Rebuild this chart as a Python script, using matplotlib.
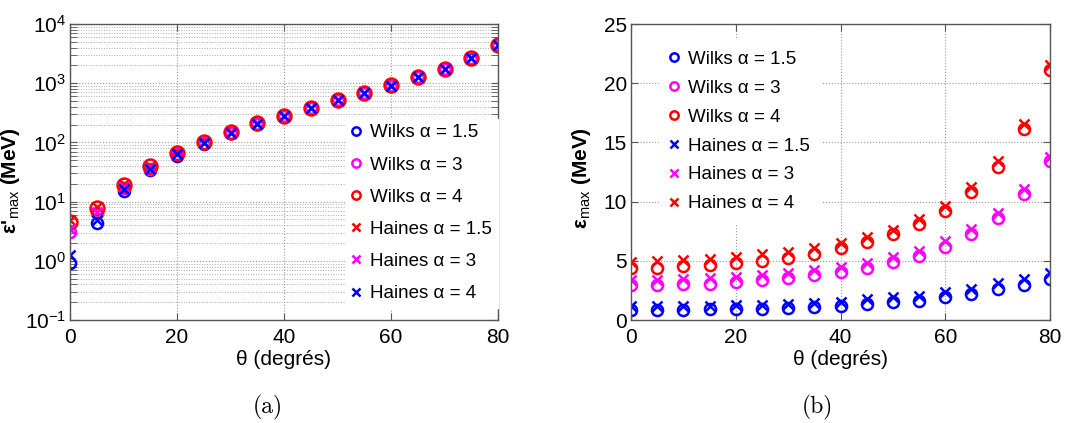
import matplotlib
matplotlib.use("Agg")
import matplotlib.pyplot as plt
from matplotlib.ticker import LogLocator, FixedLocator, NullFormatter

plt.rcParams['font.family'] = ['Liberation Sans', 'DejaVu Sans']
plt.rcParams['mathtext.fontset'] = 'custom'
plt.rcParams['mathtext.rm'] = 'Liberation Sans'
plt.rcParams['mathtext.it'] = 'Liberation Sans:italic'
plt.rcParams['mathtext.bf'] = 'Liberation Sans:bold'

theta = [0, 5, 10, 15, 20, 25, 30, 35, 40, 45, 50, 55, 60, 65, 70, 75, 80]

# Panel (a): epsilon'_max (MeV), log scale
a_wilks_15 = [0.93, 4.35, 15, 34, 60, 95, 142, 205, 274, 380, 512, 683, 905, 1255, 1745, 2610, 4380]
a_wilks_3 = [3.1, 6.4, 17, 36, 63, 97, 144, 207, 276, 382, 515, 686, 910, 1260, 1750, 2620, 4400]
a_wilks_4 = [4.6, 7.8, 19.4, 39.5, 67, 100, 147, 210, 280, 386, 519, 690, 915, 1265, 1760, 2630, 4420]
a_haines_15 = [4.9, 8.1, 19.8, 40, 68, 101, 148, 211, 281, 387, 520, 691, 916, 1266, 1762, 2632, 4425]
a_haines_3 = [3.5, 6.8, 17.5, 36.5, 64, 98, 145, 208, 277, 383, 516, 687, 911, 1261, 1751, 2621, 4402]
a_haines_4 = [1.25, 4.9, 16.6, 35.6, 63, 97, 144, 207, 276, 382, 514, 685, 908, 1258, 1748, 2615, 4390]

# Panel (b): epsilon_max (MeV)
b_wilks_15 = [0.85, 0.85, 0.88, 0.90, 0.93, 0.96, 1.02, 1.07, 1.18, 1.35, 1.49, 1.63, 1.92, 2.2, 2.62, 2.96, 3.44]
b_wilks_3 = [2.97, 2.97, 3.02, 3.08, 3.22, 3.36, 3.53, 3.76, 4.08, 4.37, 4.87, 5.41, 6.2, 7.24, 8.62, 10.6, 13.4]
b_wilks_4 = [4.43, 4.43, 4.52, 4.63, 4.8, 5.0, 5.22, 5.54, 6.06, 6.56, 7.24, 8.11, 9.21, 10.79, 12.96, 16.1, 21.1]
b_haines_15 = [1.19, 1.19, 1.19, 1.21, 1.24, 1.30, 1.36, 1.41, 1.55, 1.75, 1.92, 2.06, 2.34, 2.65, 3.1, 3.44, 3.94]
b_haines_3 = [3.39, 3.39, 3.47, 3.56, 3.67, 3.81, 4.0, 4.24, 4.5, 4.85, 5.3, 5.86, 6.65, 7.7, 9.07, 11.04, 13.8]
b_haines_4 = [4.94, 4.97, 5.03, 5.17, 5.34, 5.54, 5.76, 6.1, 6.48, 7.0, 7.6, 8.5, 9.63, 11.2, 13.4, 16.56, 21.5]

labels_wilks = ['Wilks α = 1.5', 'Wilks α = 3', 'Wilks α = 4']
labels_haines = ['Haines α = 1.5', 'Haines α = 3', 'Haines α = 4']

BLUE, MAG, RED = '#0000ff', '#ff00ff', '#ff0000'
FS = 15
LFS = 13.5

fig = plt.figure(figsize=(10.74, 4.23), dpi=100)
axa = fig.add_axes([70/1074, 1-320/423, 428/1074, 296/423])
axb = fig.add_axes([631/1074, 1-320/423, 419/1074, 296/423])

def style(ax):
    for s in ax.spines.values():
        s.set_color('#555555')
        s.set_linewidth(1.0)
    ax.tick_params(which='both', direction='in', top=True, right=True,
                   labelsize=FS, color='#555555', length=5)
    ax.tick_params(axis='x', pad=6)
    ax.tick_params(axis='y', pad=3)
    ax.set_axisbelow(True)

ckw = dict(linestyle='none', marker='o', markerfacecolor='none', markersize=8, markeredgewidth=1.8)
xkw = dict(linestyle='none', marker='x', markersize=7, markeredgewidth=1.8)

# Panel (a)
axa.plot(theta, a_wilks_15, color=BLUE, label=labels_wilks[0], **ckw)
axa.plot(theta, a_wilks_3, color=MAG, label=labels_wilks[1], **ckw)
axa.plot(theta, a_wilks_4, color=RED, label=labels_wilks[2], linestyle='none', marker='o',
         markerfacecolor='none', markersize=10, markeredgewidth=1.8)
axa.plot(theta, a_haines_15, color=RED, label=labels_haines[0], **xkw)
axa.plot(theta, a_haines_3, color=MAG, label=labels_haines[1], **xkw)
axa.plot(theta, a_haines_4, color=BLUE, label=labels_haines[2], **xkw)
axa.set_yscale('log')
axa.set_xlim(0, 80)
axa.set_ylim(0.1, 1e4)
axa.xaxis.set_major_locator(FixedLocator([0, 20, 40, 60, 80]))
axa.yaxis.set_major_locator(LogLocator(base=10, numticks=10))
axa.yaxis.set_minor_locator(LogLocator(base=10, subs=range(2, 10), numticks=100))
axa.yaxis.set_minor_formatter(NullFormatter())
axa.grid(True, which='major', linestyle=':', color='#999999', linewidth=0.8)
axa.grid(True, which='minor', axis='y', linestyle=':', color='#aaaaaa', linewidth=0.7)
style(axa)
axa.set_xlabel('θ (degrés)', fontsize=FS, labelpad=2)
axa.set_ylabel("ε'$_{\\rm max}$ (MeV)", fontsize=FS, fontweight='bold')
axa.yaxis.set_label_coords(-0.112, 0.47)
lega = axa.legend(loc='upper left', bbox_to_anchor=(0.645, 0.68), fontsize=LFS,
                  frameon=True, fancybox=False, edgecolor='white', framealpha=1,
                  handlelength=0.5, handletextpad=0.5, labelspacing=0.8,
                  borderpad=0.3, markerscale=0.75, borderaxespad=0)
for h in lega.legend_handles:
    h.set_markersize(6)

# Panel (b)
axb.plot(theta, b_wilks_15, color=BLUE, label=labels_wilks[0], **ckw)
axb.plot(theta, b_wilks_3, color=MAG, label=labels_wilks[1], **ckw)
axb.plot(theta, b_wilks_4, color=RED, label=labels_wilks[2], **ckw)
axb.plot(theta, b_haines_15, color=BLUE, label=labels_haines[0], **xkw)
axb.plot(theta, b_haines_3, color=MAG, label=labels_haines[1], **xkw)
axb.plot(theta, b_haines_4, color=RED, label=labels_haines[2], **xkw)
axb.set_xlim(0, 80)
axb.set_ylim(0, 25)
axb.xaxis.set_major_locator(FixedLocator([0, 20, 40, 60, 80]))
axb.yaxis.set_major_locator(FixedLocator([0, 5, 10, 15, 20, 25]))
axb.grid(True, which='major', linestyle=':', color='#999999', linewidth=0.8)
style(axb)
axb.set_xlabel('θ (degrés)', fontsize=FS, labelpad=2)
axb.set_ylabel("ε$_{\\rm max}$ (MeV)", fontsize=FS, fontweight='bold')
axb.yaxis.set_label_coords(-0.09, 0.48)
legb = axb.legend(loc='upper left', bbox_to_anchor=(0.067, 0.945), fontsize=LFS,
                  frameon=True, fancybox=False, edgecolor='white', framealpha=1,
                  handlelength=0.5, handletextpad=0.5, labelspacing=0.63,
                  borderpad=0.55, markerscale=0.75, borderaxespad=0)
for h in legb.legend_handles:
    h.set_markersize(6)

fig.text(268/1074, 1-407/423, '(a)', fontsize=17, family=['cmr10', 'DejaVu Serif'], ha='center', va='center')
fig.text(817/1074, 1-407/423, '(b)', fontsize=17, family=['cmr10', 'DejaVu Serif'], ha='center', va='center')

fig.savefig('out.png', dpi=100)
